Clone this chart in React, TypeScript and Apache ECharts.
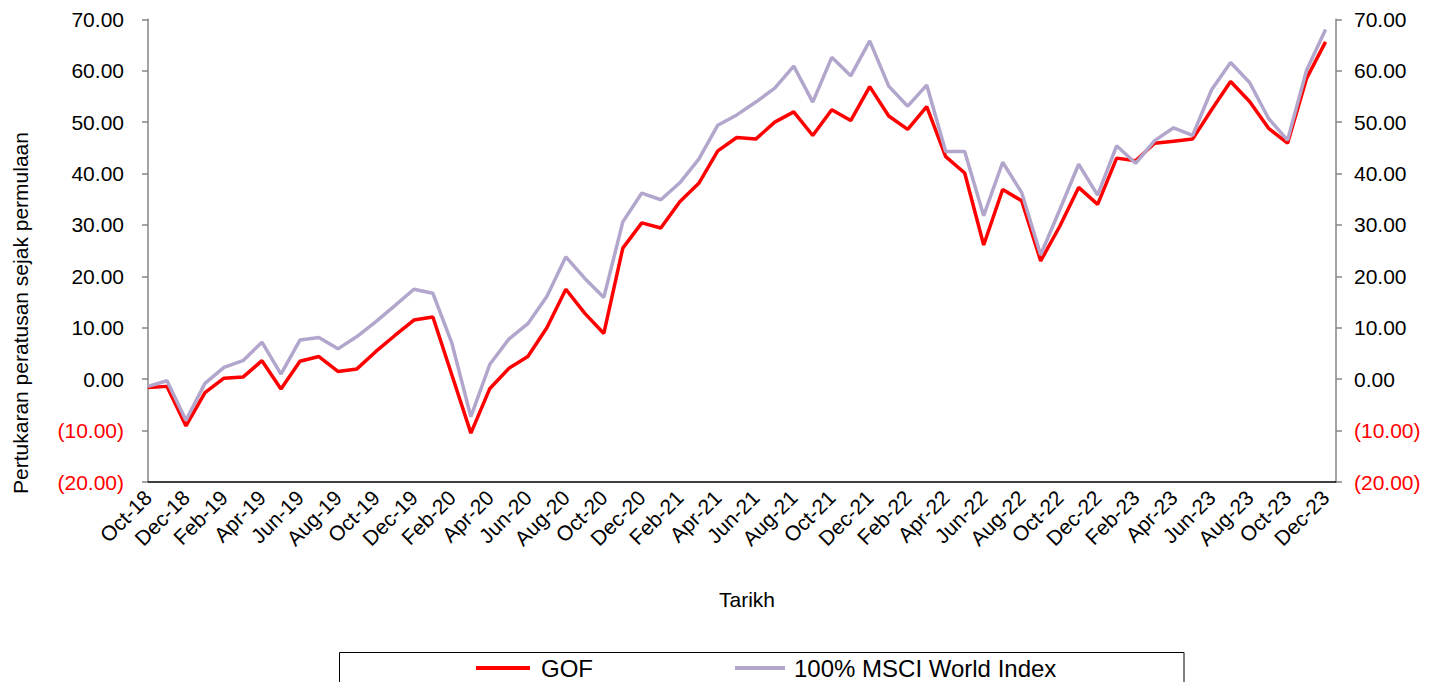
import React, { useEffect, useRef } from "react";
import * as echarts from "echarts";

const months = [
  "Oct-18", "Nov-18", "Dec-18",
  "Jan-19", "Feb-19", "Mar-19", "Apr-19", "May-19", "Jun-19", "Jul-19", "Aug-19", "Sep-19", "Oct-19", "Nov-19", "Dec-19",
  "Jan-20", "Feb-20", "Mar-20", "Apr-20", "May-20", "Jun-20", "Jul-20", "Aug-20", "Sep-20", "Oct-20", "Nov-20", "Dec-20",
  "Jan-21", "Feb-21", "Mar-21", "Apr-21", "May-21", "Jun-21", "Jul-21", "Aug-21", "Sep-21", "Oct-21", "Nov-21", "Dec-21",
  "Jan-22", "Feb-22", "Mar-22", "Apr-22", "May-22", "Jun-22", "Jul-22", "Aug-22", "Sep-22", "Oct-22", "Nov-22", "Dec-22",
  "Jan-23", "Feb-23", "Mar-23", "Apr-23", "May-23", "Jun-23", "Jul-23", "Aug-23", "Sep-23", "Oct-23", "Nov-23", "Dec-23",
];

const gof = [
  -1.6, -1.4, -9.1, -2.6, 0.2, 0.4, 3.6, -1.9, 3.5, 4.4, 1.5, 2.0, 5.4, 8.5, 11.5, 12.1, 0.8, -10.5,
  -1.8, 2.1, 4.4, 10.0, 17.5, 12.8, 8.9, 25.5, 30.4, 29.4, 34.5, 38.1, 44.4, 47.0, 46.7, 50.0, 52.0, 47.4,
  52.4, 50.3, 56.9, 51.2, 48.6, 53.0, 43.3, 40.1, 26.1, 36.9, 34.7, 23.0, 29.7, 37.3, 34.0, 43.0, 42.5, 45.9,
  46.3, 46.7, 52.4, 57.9, 54.0, 48.8, 45.9, 58.5, 65.6,
];

const msci = [
  -1.4, -0.3, -8.0, -0.8, 2.3, 3.6, 7.2, 1.0, 7.6, 8.1, 5.9, 8.3, 11.2, 14.3, 17.5, 16.7, 7.0, -7.3,
  2.9, 7.8, 10.8, 16.1, 23.8, 19.6, 15.9, 30.6, 36.2, 34.9, 38.2, 42.8, 49.4, 51.4, 53.9, 56.6, 60.9, 53.9,
  62.6, 59.0, 65.8, 57.0, 53.1, 57.2, 44.3, 44.3, 31.8, 42.2, 36.3, 24.2, 32.9, 41.8, 35.8, 45.4, 42.0, 46.4,
  48.9, 47.4, 56.3, 61.6, 57.7, 50.7, 46.5, 60.1, 68.0,
];

const seriesNames = ["GOF", "100% MSCI World Index"];
const yTitle = "Pertukaran peratusan sejak permulaan";
const xTitle = "Tarikh";

const FONT = "'Liberation Sans', Arial, sans-serif";

const fmtY = (v: number) => {
  if (v < 0) return `{neg|(${Math.abs(v).toFixed(2)})}`;
  return `{pos|${v.toFixed(2)}}`;
};

export default function App() {
  const ref = useRef<HTMLDivElement>(null);
  useEffect(() => {
    if (!ref.current) return;
    const chart = echarts.init(ref.current, undefined, { renderer: "svg" });
    const yLabelRich = {
      neg: { color: "#FF0000", fontSize: 21, fontFamily: FONT },
      pos: { color: "#000000", fontSize: 21, fontFamily: FONT },
    };
    const yAxisCommon = {
      type: "value",
      min: -20,
      max: 70,
      interval: 10,
      splitLine: { show: false },
      axisLine: { show: true, lineStyle: { color: "#868686", width: 1.5 } },
      axisTick: { show: true, inside: false, length: 6, lineStyle: { color: "#868686", width: 1.5 } },
    };
    chart.setOption({
      animation: false,
      backgroundColor: "#ffffff",
      textStyle: { fontFamily: FONT },
      grid: { left: 148, right: 99, top: 19.3, bottom: 200, containLabel: false },
      xAxis: {
        type: "value",
        min: 0,
        max: 62.55,
        interval: 2,
        splitLine: { show: false },
        axisLine: { show: true, onZero: false, lineStyle: { color: "#000000", width: 1.5 } },
        axisTick: { show: false },
        axisLabel: {
          rotate: 45,
          margin: 12,
          fontSize: 21,
          color: "#000000",
          fontFamily: FONT,
          showMaxLabel: false,
          formatter: (v: number) => (Number.isInteger(v) && months[v] ? months[v] : ""),
        },
      },
      yAxis: [
        {
          ...yAxisCommon,
          position: "left",
          axisLabel: { margin: 24, formatter: fmtY, rich: yLabelRich, align: "right" },
        },
        {
          ...yAxisCommon,
          position: "right",
          axisLabel: { margin: 18, formatter: fmtY, rich: yLabelRich, align: "left" },
        },
      ],
      legend: [
        {
          data: [seriesNames[0]],
          left: 476,
          top: 656,
          padding: 0,
          icon: "rect",
          itemWidth: 54,
          itemHeight: 4,
          textStyle: { fontSize: 24, color: "#000", fontFamily: FONT, padding: [0, 0, 0, 6] },
        },
        {
          data: [seriesNames[1]],
          left: 735,
          top: 656,
          padding: 0,
          icon: "rect",
          itemWidth: 50,
          itemHeight: 4,
          textStyle: { fontSize: 24, color: "#000", fontFamily: FONT, padding: [0, 0, 0, 4] },
        },
      ],
      graphic: [
        {
          type: "rect",
          shape: { x: 339.5, y: 652.5, width: 844.5, height: 60 },
          style: { fill: "none", stroke: "#000000", lineWidth: 1 },
          silent: true,
        },
        {
          type: "text",
          x: 20,
          y: 313,
          rotation: Math.PI / 2,
          style: {
            text: yTitle,
            fontSize: 21,
            fontFamily: FONT,
            fill: "#000",
            align: "center",
            verticalAlign: "middle",
          },
        },
        {
          type: "text",
          x: 747,
          y: 599,
          style: {
            text: xTitle,
            fontSize: 21,
            fontFamily: FONT,
            fill: "#000",
            align: "center",
            verticalAlign: "middle",
          },
        },
      ],
      series: [
        {
          name: seriesNames[0],
          type: "line",
          data: gof.map((v, i) => [i, v]),
          symbol: "none",
          lineStyle: { color: "#FF0000", width: 3.5 },
          itemStyle: { color: "#FF0000" },
        },
        {
          name: seriesNames[1],
          type: "line",
          data: msci.map((v, i) => [i, v]),
          symbol: "none",
          lineStyle: { color: "#B3A6CC", width: 3.5 },
          itemStyle: { color: "#B3A6CC" },
        },
      ],
    });
    return () => chart.dispose();
  }, []);
  return (
    <div
      ref={ref}
      style={{ position: "fixed", left: 0, top: 0, width: 1435, height: 682, background: "#fff" }}
    />
  );
}
